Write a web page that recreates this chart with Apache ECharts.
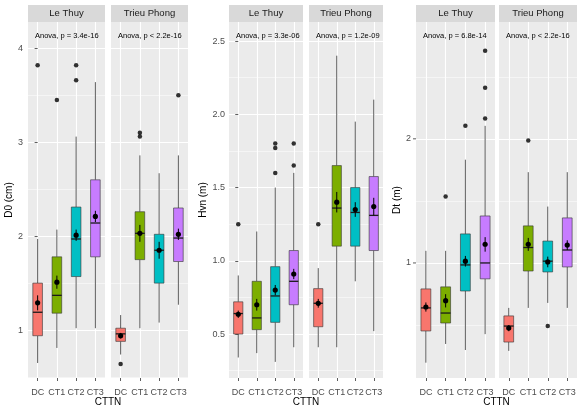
<!DOCTYPE html>
<html><head><meta charset="utf-8">
<script src="https://cdn.jsdelivr.net/npm/echarts@6/dist/echarts.min.js"></script>
<style>html,body{margin:0;padding:0;background:#fff}#c{width:580px;height:412px}</style>
</head><body><div id="c"></div>
<script>
const categories = ['DC', 'CT1', 'CT2', 'CT3'];
const facets = ['Le Thuy', 'Trieu Phong'];
const yTitles = ['D0 (cm)', 'Hvn (m)', 'Dt (m)'];
const xTitle = 'CTTN';
const anovaLabels = ['Anova, p = 3.4e-16', 'Anova, p < 2.2e-16', 'Anova, p = 3.3e-06', 'Anova, p = 1.2e-09', 'Anova, p = 6.8e-14', 'Anova, p < 2.2e-16'];

// tick labels
const d0Ticks = [1, 2, 3, 4];
const hvnTicks = [0.5, 1.0, 1.5, 2.0, 2.5];
const dtTicks = [1, 2];

// box stats per category: [lower whisker, Q1, median, Q3, upper whisker]
// D0 (cm)
const d0LeThuyBox = [[0.65, 0.94, 1.19, 1.50, 1.97], [0.81, 1.18, 1.37, 1.78, 2.07], [1.02, 1.57, 1.97, 2.31, 3.06], [1.02, 1.78, 2.14, 2.60, 3.64]];
const d0LeThuyMean = [1.29, 1.51, 2.01, 2.21];
const d0LeThuySe = [0.08, 0.07, 0.06, 0.06];
const d0LeThuyOutliers = [[0, 3.82], [1, 3.45], [2, 3.82], [2, 3.66]];
const d0TrieuPhongBox = [[0.74, 0.88, 0.96, 1.02, 1.16], [1.02, 1.75, 2.03, 2.26, 2.86], [1.08, 1.50, 1.85, 2.02, 2.67], [1.27, 1.73, 1.98, 2.30, 2.86]];
const d0TrieuPhongMean = [0.94, 2.03, 1.85, 2.02];
const d0TrieuPhongSe = [0.03, 0.09, 0.09, 0.06];
const d0TrieuPhongOutliers = [[0, 0.64], [1, 3.10], [1, 3.06], [3, 3.50]];
// Hvn (m)
const hvnLeThuyBox = [[0.34, 0.50, 0.64, 0.72, 0.90], [0.37, 0.53, 0.61, 0.86, 1.20], [0.31, 0.58, 0.76, 0.96, 1.50], [0.41, 0.70, 0.86, 1.07, 1.60]];
const hvnLeThuyMean = [0.635, 0.70, 0.80, 0.91];
const hvnLeThuySe = [0.025, 0.04, 0.035, 0.035];
const hvnLeThuyOutliers = [[0, 1.25], [2, 1.80], [2, 1.77], [2, 1.60], [3, 1.80], [3, 1.65]];
const hvnTrieuPhongBox = [[0.41, 0.55, 0.71, 0.81, 0.95], [0.41, 1.10, 1.36, 1.65, 2.40], [0.86, 1.10, 1.33, 1.50, 1.95], [0.52, 1.07, 1.31, 1.575, 2.10]];
const hvnTrieuPhongMean = [0.71, 1.40, 1.35, 1.37];
const hvnTrieuPhongSe = [0.03, 0.07, 0.05, 0.06];
const hvnTrieuPhongOutliers = [[0, 1.25]];
// Dt (m)
const dtLeThuyBox = [[0.573, 0.684, 0.778, 0.865, 1.07], [0.636, 0.715, 0.756, 0.875, 1.07], [0.615, 0.855, 0.989, 1.176, 1.78], [0.672, 0.915, 1.0, 1.30, 2.15]];
const dtLeThuyMean = [0.782, 0.81, 1.01, 1.11];
const dtLeThuySe = [0.02, 0.03, 0.03, 0.045];
const dtLeThuyOutliers = [[1, 1.45], [2, 2.15], [3, 3.27], [3, 2.66], [3, 2.24]];
const dtTrieuPhongBox = [[0.612, 0.643, 0.703, 0.744, 0.778], [0.778, 0.956, 1.09, 1.23, 1.66], [0.80, 0.951, 1.01, 1.13, 1.37], [0.778, 0.978, 1.075, 1.286, 1.66]];
const dtTrieuPhongMean = [0.695, 1.11, 1.006, 1.105];
const dtTrieuPhongSe = [0.012, 0.04, 0.03, 0.03];
const dtTrieuPhongOutliers = [[1, 1.98], [2, 0.703]];

const palette = ['#F8766D', '#7CAE00', '#00BFC4', '#C77CFF'];
const FONT = '"Liberation Sans", Arial, sans-serif';

const panels = [
  { title: yTitles[0], ticks: d0Ticks, type: 'value', min: 0.49, max: 4.28, fmt: v => String(v), nameGap: 13, margin: 5,
    grids: [{ left: 28, width: 77 }, { left: 111, width: 77 }],
    data: [[d0LeThuyBox, d0LeThuyMean, d0LeThuySe, d0LeThuyOutliers], [d0TrieuPhongBox, d0TrieuPhongMean, d0TrieuPhongSe, d0TrieuPhongOutliers]] },
  { title: yTitles[1], ticks: hvnTicks, type: 'value', min: 0.20, max: 2.63, fmt: v => v.toFixed(1), nameGap: 19, margin: 4,
    grids: [{ left: 229, width: 74 }, { left: 309, width: 74 }],
    data: [[hvnLeThuyBox, hvnLeThuyMean, hvnLeThuySe, hvnLeThuyOutliers], [hvnTrieuPhongBox, hvnTrieuPhongMean, hvnTrieuPhongSe, hvnTrieuPhongOutliers]] },
  { title: yTitles[2], ticks: dtTicks, type: 'log', min: 0.526, max: 3.84, fmt: v => (dtTicks.some(t => Math.abs(t - v) < 1e-9) ? String(Math.round(v)) : ''), nameGap: 12, margin: 5,
    grids: [{ left: 416, width: 79 }, { left: 499, width: 78 }],
    data: [[dtLeThuyBox, dtLeThuyMean, dtLeThuySe, dtLeThuyOutliers], [dtTrieuPhongBox, dtTrieuPhongMean, dtTrieuPhongSe, dtTrieuPhongOutliers]] }
];

const TOP = 22, HEIGHT = 356;

function renderBox(params, api) {
  const x = api.value(0);
  const lo = api.coord([x, api.value(1)]);
  const q1 = api.coord([x, api.value(2)]);
  const md = api.coord([x, api.value(3)]);
  const q3 = api.coord([x, api.value(4)]);
  const hi = api.coord([x, api.value(5)]);
  const mn = api.coord([x, api.value(6)]);
  const sLo = api.coord([x, api.value(6) - api.value(7)]);
  const sHi = api.coord([x, api.value(6) + api.value(7)]);
  const band = api.size([1, 0], [x, 1])[0];
  const bw = band * 0.5;
  const cx = md[0];
  return { type: 'group', children: [
    { type: 'line', shape: { x1: cx, y1: lo[1], x2: cx, y2: q1[1] }, style: { stroke: '#333', lineWidth: 0.8 } },
    { type: 'line', shape: { x1: cx, y1: q3[1], x2: cx, y2: hi[1] }, style: { stroke: '#333', lineWidth: 0.8 } },
    { type: 'rect', shape: { x: cx - bw / 2, y: q3[1], width: bw, height: q1[1] - q3[1] }, style: { fill: palette[x], stroke: '#333', lineWidth: 0.6 } },
    { type: 'line', shape: { x1: cx - bw / 2, y1: md[1], x2: cx + bw / 2, y2: md[1] }, style: { stroke: '#1a1a1a', lineWidth: 1.3 } },
    { type: 'line', shape: { x1: cx, y1: sLo[1], x2: cx, y2: sHi[1] }, style: { stroke: '#000', lineWidth: 1 } },
    { type: 'circle', shape: { cx: cx, cy: mn[1], r: 2.6 }, style: { fill: '#000' } }
  ] };
}

const grid = [], xAxis = [], yAxis = [], series = [], graphic = [];
const logTickAxes = [];
let gi = 0;
panels.forEach((p, pi) => {
  p.grids.forEach((g, fi) => {
    grid.push({ left: g.left, top: TOP, width: g.width, height: HEIGHT, show: true, backgroundColor: '#EBEBEB', borderWidth: 0, containLabel: false });
    const xMain = xAxis.length;
    xAxis.push({ type: 'category', gridIndex: gi, data: categories, boundaryGap: true, position: 'bottom',
      axisLine: { show: false }, axisTick: { show: true, alignWithLabel: true, length: 3, lineStyle: { color: '#333', width: 0.8 } },
      axisLabel: { interval: 0, fontSize: 9, color: '#4D4D4D', fontFamily: FONT, margin: 10 }, splitLine: { show: false } });
    xAxis.push({ type: 'value', gridIndex: gi, min: -0.5, max: 3.5, show: true, position: 'top',
      axisLine: { show: false }, axisTick: { show: false }, axisLabel: { show: false },
      splitLine: { show: true, showMinLine: false, showMaxLine: false, lineStyle: { color: '#FFFFFF', width: 1.1 } } });
    const yMain = yAxis.length;
    const yA = { type: p.type, gridIndex: gi, min: p.min, max: p.max, position: 'left',
      axisLine: { show: false },
      axisLabel: { show: fi === 0, formatter: p.fmt, fontSize: 9, color: '#4D4D4D', fontFamily: FONT, margin: p.margin }
    };
    if (p.type === 'log') {
      yA.logBase = 2;
      yA.axisTick = { show: false };
      yA.splitLine = { show: true, showMinLine: false, showMaxLine: false, lineStyle: { color: '#FFFFFF', width: 1.1 } };
      yA.minorSplitLine = { show: false };
      if (fi === 0) logTickAxes.push({ axis: yMain, x: g.left });
    } else {
      yA.axisTick = { show: fi === 0, length: 3, customValues: p.ticks, lineStyle: { color: '#333', width: 0.8 } };
      yA.axisLabel.customValues = p.ticks;
      yA.splitLine = { show: true, showMinLine: true, showMaxLine: true, lineStyle: { color: '#FFFFFF', width: 1.1 } };
      yA.minorTick = { show: false, splitNumber: 2 };
      yA.minorSplitLine = { show: true, lineStyle: { color: '#FFFFFF', width: 0.5 } };
    }
    if (fi === 0) {
      yA.name = p.title; yA.nameLocation = 'middle'; yA.nameGap = p.nameGap;
      yA.nameTextStyle = { fontSize: 10, color: '#000', fontFamily: FONT };
    }
    yAxis.push(yA);
    if (p.type === 'log') {
      yAxis.push({ type: 'log', logBase: 2, gridIndex: gi, min: p.min * Math.SQRT2, max: p.max * Math.SQRT2, position: 'right',
        axisLine: { show: false }, axisTick: { show: false }, axisLabel: { show: false },
        splitLine: { show: true, showMinLine: false, showMaxLine: false, lineStyle: { color: '#FFFFFF', width: 0.5 } } });
    }
    const [box, mean, se, outl] = p.data[fi];
    const items = box.map((b, ci) => [ci, b[0], b[1], b[2], b[3], b[4], mean[ci], se[ci]]);
    series.push({ type: 'custom', xAxisIndex: xMain, yAxisIndex: yMain, renderItem: renderBox, data: items, clip: false, silent: true, z: 3 });
    series.push({ type: 'scatter', xAxisIndex: xMain, yAxisIndex: yMain, data: outl, symbolSize: 4.5, itemStyle: { color: '#000' }, silent: true, z: 4 });
    graphic.push({ type: 'rect', shape: { x: g.left, y: 5, width: g.width, height: 17 }, style: { fill: '#D9D9D9' }, silent: true });
    graphic.push({ type: 'text', x: g.left + g.width / 2, y: 13.5, style: { text: facets[fi], fill: '#1A1A1A', font: '9.5px ' + FONT, align: 'center', verticalAlign: 'middle' }, silent: true });
    graphic.push({ type: 'text', x: g.left + 7, y: 36, style: { text: anovaLabels[gi], fill: '#000', font: '7.5px ' + FONT, align: 'left', verticalAlign: 'middle' }, silent: true, z: 10 });
    gi++;
  });
  const g0 = p.grids[0], g1 = p.grids[1];
  graphic.push({ type: 'text', x: (g0.left + g1.left + g1.width) / 2, y: 402, style: { text: xTitle, fill: '#000', font: '10px ' + FONT, align: 'center', verticalAlign: 'middle' }, silent: true });
});

const chart = echarts.init(document.getElementById('c'), null, { renderer: 'canvas' });
chart.setOption({ animation: false, backgroundColor: '#FFFFFF', grid, xAxis, yAxis, series, graphic });
// tick marks for the log axis, placed through the axis scale
logTickAxes.forEach(t => {
  dtTicks.forEach(v => {
    const y = chart.convertToPixel({ yAxisIndex: t.axis }, v);
    graphic.push({ type: 'line', shape: { x1: t.x - 3, y1: y, x2: t.x, y2: y }, style: { stroke: '#333', lineWidth: 0.8 }, silent: true });
  });
});
chart.setOption({ graphic });
</script></body></html>
